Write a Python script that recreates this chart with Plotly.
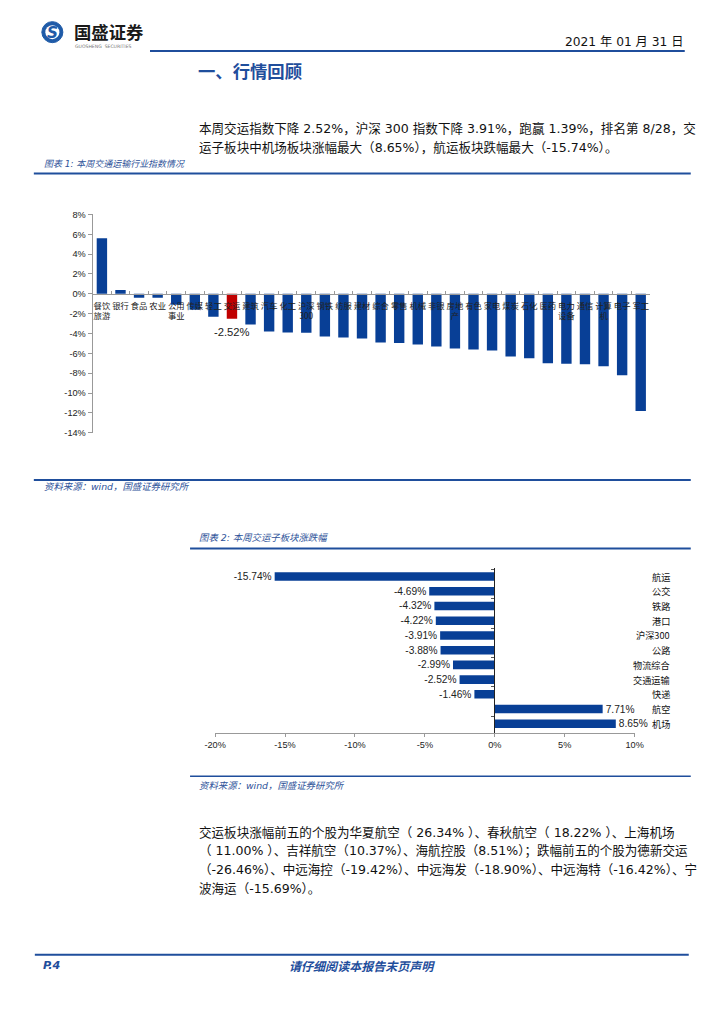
import plotly.graph_objects as go

# ---------------- data ----------------
ind_names = ["餐饮旅游", "银行", "食品", "农业", "公用事业", "传媒", "轻工", "交运", "建筑", "汽车",
             "化工", "沪深300", "钢铁", "纺服", "建材", "综合", "零售", "机械", "非银", "房地产",
             "有色", "家电", "煤炭", "石化", "医药", "电力设备", "通信", "计算机", "电子", "军工"]
ind_labels = ["餐饮<br>旅游", "银行", "食品", "农业", "公用<br>事业", "传媒", "轻工", "交运", "建筑", "汽车",
              "化工", "沪深<br>300", "钢铁", "纺服", "建材", "综合", "零售", "机械", "非银", "房地<br>产",
              "有色", "家电", "煤炭", "石化", "医药", "电力<br>设备", "通信", "计算<br>机", "电子", "军工"]
ind_values = [5.6, 0.4, -0.4, -0.4, -1.1, -1.6, -2.3, -2.52, -3.1, -3.8,
              -3.9, -3.91, -4.3, -4.4, -4.5, -4.9, -4.95, -5.1, -5.3, -5.5,
              -5.6, -5.7, -6.3, -6.5, -7.0, -7.05, -7.1, -7.3, -8.2, -11.8]
highlight = "交运"
y1_tickvals = [8, 6, 4, 2, 0, -2, -4, -6, -8, -10, -12, -14]
y1_ticktext = ["8%", "6%", "4%", "2%", "0%", "-2%", "-4%", "-6%", "-8%", "-10%", "-12%", "-14%"]

sub_names = ["航运", "公交", "铁路", "港口", "沪深300", "公路", "物流综合", "交通运输", "快递", "航空", "机场"]
sub_values = [-15.74, -4.69, -4.32, -4.22, -3.91, -3.88, -2.99, -2.52, -1.46, 7.71, 8.65]
x2_tickvals = [-20, -15, -10, -5, 0, 5, 10]
x2_ticktext = ["-20%", "-15%", "-10%", "-5%", "0%", "5%", "10%"]

para1 = ["本周交运指数下降 2.52%，沪深 300 指数下降 3.91%，跑赢 1.39%，排名第 8/28，交",
         "运子板块中机场板块涨幅最大（8.65%），航运板块跌幅最大（-15.74%）。"]
para2 = ["交运板块涨幅前五的个股为华夏航空（ 26.34% ）、春秋航空（ 18.22% ）、上海机场",
         "（ 11.00% ）、吉祥航空（10.37%）、海航控股（8.51%）；跌幅前五的个股为德新交运",
         "（-26.46%）、中远海控（-19.42%）、中远海发（-18.90%）、中远海特（-16.42%）、宁",
         "波海运（-15.69%）。"]

# ---------------- page geometry helpers ----------------
W, H = 724, 1024
AX, SX = 11.2, 0.971   # observed photo mapping (horizontal)
AY, SY = 6.9, 0.9886   # observed photo mapping (vertical)
FS = 1.02              # font compensation


def px(x):
    return ((x - AX) / SX) / W


def py(y):
    return 1 - ((y - AY) / SY) / H


def f(s):
    return round(s * FS, 2)


BLUE = "#1F4E9C"
BAR = "#083F96"
RED = "#C00000"
CAP = "#2D5299"
CJK = "Verdana, DejaVu Sans, Noto Sans CJK SC"
NUM = "Liberation Sans, Arial"

fig = go.Figure()

# chart 1
fig.add_trace(go.Bar(
    x=ind_names, y=ind_values,
    marker=dict(color=[RED if n == highlight else BAR for n in ind_names], line=dict(width=0)),
    width=0.56,
    xaxis="x", yaxis="y", showlegend=False,
))

# chart 2
fig.add_trace(go.Bar(
    x=sub_values, y=sub_names, orientation="h",
    marker=dict(color=BAR, line=dict(width=0)),
    width=0.58,
    text=[f"{v:.2f}%" for v in sub_values],
    textposition="outside", constraintext="none", cliponaxis=False,
    textfont=dict(family=NUM, size=f(10), color="#222"),
    xaxis="x2", yaxis="y2", showlegend=False,
))

ann = []
shapes = []

# data label for the highlighted bar of chart 1
for n, v in zip(ind_names, ind_values):
    if n == highlight:
        ann.append(dict(x=n, y=v, xref="x", yref="y", text=f"{v:.2f}%", showarrow=False,
                        xanchor="center", yanchor="top", yshift=-5,
                        font=dict(size=f(11), color="#222", family=NUM)))


def txt(x, y, s, size, color="#111", anchor="left", family=CJK, **kw):
    ann.append(dict(x=px(x), y=py(y), xref="paper", yref="paper", text=s, showarrow=False,
                    xanchor=anchor, yanchor="middle", font=dict(size=f(size), color=color, family=family), **kw))


def hline(x0, x1, y, color=BLUE, w=2):
    shapes.append(dict(type="line", xref="paper", yref="paper", x0=px(x0), x1=px(x1), y0=py(y), y1=py(y),
                       line=dict(color=color, width=w)))


# header
shapes.append(dict(type="circle", xref="paper", yref="paper", x0=px(42), x1=px(63), y0=py(44.5), y1=py(23.5),
                   fillcolor="#1F5BA8", line=dict(color="#1F5BA8", width=1)))
shapes.append(dict(type="circle", xref="paper", yref="paper", x0=px(45.5), x1=px(59.5), y0=py(41), y1=py(27),
                   fillcolor="white", line=dict(width=0)))
txt(52.5, 34.5, "<b><i>S</i></b>", 15, "#1F5BA8", anchor="center", family="DejaVu Sans")
txt(72, 33.5, "<b>国盛证券</b>", 17, "#1a1a1a", family="Noto Sans CJK SC")
txt(73, 48.5, "GUOSHENG  SECURITIES", 4.5, "#777", family="DejaVu Sans")
hline(150, 684, 52.7, BLUE, 2)
txt(684, 44, "2021 年 01 月 31 日", 12, "#111", anchor="right")
txt(196, 72.5, "<b>一、行情回顾</b>", 17, BLUE, family="Noto Sans CJK SC")

for i, line in enumerate(para1):
    txt(197, 130.5 + i * 18.5, line, 12.3, "#111")

# chart 1 frame
txt(42, 165.5, "<i>图表 1: 本周交通运输行业指数情况</i>", 8.8, CAP)
hline(34, 690, 175, BLUE, 2)
hline(34, 690, 481, BLUE, 2)
txt(42, 488, "<i>资料来源：wind，国盛证券研究所</i>", 9.2, CAP)

# chart 2 frame
txt(197, 539, "<i>图表 2: 本周交运子板块涨跌幅</i>", 9.2, CAP)
hline(190, 690, 549.5, BLUE, 2)
hline(190, 690, 777, BLUE, 1.5)
txt(197, 786, "<i>资料来源：wind，国盛证券研究所</i>", 9.2, CAP)

for n in sub_names:
    ann.append(dict(x=px(671), y=n, xref="paper", yref="y2", text=n, showarrow=False,
                    xanchor="right", yanchor="middle",
                    font=dict(size=f(9), color="#111", family="Noto Sans CJK SC")))

for i, line in enumerate(para2):
    txt(197, 833 + i * 18.7, line, 12.3, "#111")

# footer
hline(35, 688, 955, BLUE, 2)
txt(41, 965.5, "<b><i>P.4</i></b>", 11, BLUE, family="DejaVu Sans")
txt(362, 965.5, "<b><i>请仔细阅读本报告末页声明</i></b>", 11.8, BLUE, anchor="center", family="Noto Sans CJK SC")

fig.update_layout(
    width=W, height=H, margin=dict(l=0, r=0, t=0, b=0),
    paper_bgcolor="white", plot_bgcolor="rgba(0,0,0,0)",
    bargap=0.4,
    annotations=ann, shapes=shapes,
    xaxis=dict(domain=[px(92.7), px(649.3)], range=[-0.5, 29.5], anchor="free", position=py(295),
               type="category", tickmode="array", tickvals=ind_names, ticktext=ind_labels, tickangle=0,
               tickson="boundaries", ticks="inside", ticklen=3, tickcolor="#999", ticklabelstandoff=4,
               showline=True, linecolor="#999", linewidth=1, showgrid=False, zeroline=False,
               tickfont=dict(size=8.3, color="#222", family="Noto Sans CJK SC")),
    yaxis=dict(domain=[py(434), py(216)], range=[-14, 8], anchor="x", position=px(92.7),
               tickmode="array", tickvals=y1_tickvals, ticktext=y1_ticktext,
               ticks="outside", ticklen=4, tickcolor="#999", showline=True, linecolor="#999",
               showgrid=False, zeroline=False, tickfont=dict(size=f(9), color="#222", family=NUM)),
    xaxis2=dict(domain=[px(215), px(634)], range=[-20, 10], anchor="y2",
                tickmode="array", tickvals=x2_tickvals, ticktext=x2_ticktext,
                ticks="outside", ticklen=3, tickcolor="#999", showline=True, linecolor="#999",
                showgrid=False, zeroline=False, tickfont=dict(size=f(9), color="#222", family=NUM)),
    yaxis2=dict(domain=[py(733.5), py(568.5)], anchor="free", position=px(494),
                type="category", autorange="reversed", showticklabels=False,
                tickson="boundaries", ticks="outside", ticklen=3, tickcolor="#555",
                showline=True, linecolor="#222", linewidth=1, showgrid=False, zeroline=False),
)

fig.write_html(
    "out.html",
    config={"displayModeBar": False},
    post_script="document.body.style.margin='0';document.body.style.padding='0';"
                "document.documentElement.style.overflow='hidden';",
)
